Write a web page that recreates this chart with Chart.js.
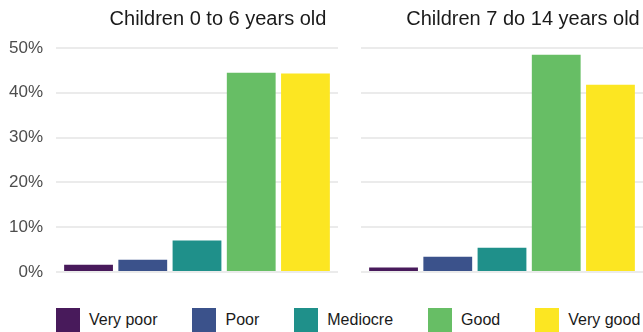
<!DOCTYPE html>
<html>
<head>
<meta charset="utf-8">
<script src="https://cdn.jsdelivr.net/npm/chart.js@4/dist/chart.umd.min.js"></script>
<style>
    body { margin: 0; background: #fff; font-family: "Liberation Sans", Arial, sans-serif; }
    #wrap { position: relative; width: 643px; height: 332px; overflow: hidden; }
    #left { position: absolute; left: 0; top: 0; }
    #right { position: absolute; left: 340px; top: 0; }
    #legend { position: absolute; left: 56px; top: 308px; display: flex; gap: 35px; }
    .item { display: flex; align-items: center; font-size: 16px; color: #1a1a1a; height: 24px; }
    .key { width: 24px; height: 24px; margin-right: 9px; }
</style>
</head>
<body>
<div id="wrap">
    <canvas id="left" width="340" height="290"></canvas>
    <canvas id="right" width="303" height="290"></canvas>
    <div id="legend"></div>
</div>
<script>
const categories = ['Very poor', 'Poor', 'Mediocre', 'Good', 'Very good'];
const panelTitles = ['Children 0 to 6 years old', 'Children 7 do 14 years old'];
// share of children per rating, in %
const youngShares = [1.6, 2.75, 7.05, 44.5, 44.3];
const olderShares = [1.0, 3.4, 5.4, 48.5, 41.8];
const yTicks = [0, 10, 20, 30, 40, 50];
const colors = ['#481A5B', '#3B528B', '#1F908A', '#67BE65', '#FCE622'];

const fontFamily = '"Liberation Sans", Arial, sans-serif';

// strip title above each panel
const facetTitle = {
    id: 'facetTitle',
    afterDraw(chart, args, opts) {
        const ctx = chart.ctx;
        const area = chart.chartArea;
        ctx.save();
        ctx.font = '20px ' + fontFamily;
        ctx.fillStyle = '#1a1a1a';
        ctx.textAlign = 'center';
        ctx.textBaseline = 'alphabetic';
        ctx.fillText(opts.text, (area.left + area.right) / 2 + 21, 25);
        ctx.restore();
    }
};

let makePanel = function (canvasId, title, shares, showTicks) {
    return new Chart(document.getElementById(canvasId).getContext('2d'), {
        type: 'bar',
        data: {
            datasets: [{
                data: categories.map((c, i) => ({x: i + 1, y: shares[i]})),
                backgroundColor: colors,
                borderWidth: 0,
                barPercentage: 0.9,
                categoryPercentage: 1.0
            }]
        },
        options: {
            responsive: false,
            animation: false,
            layout: {padding: {top: 48, right: showTicks ? 2 : 0, bottom: 18, left: 0}},
            plugins: {
                legend: {display: false},
                tooltip: {enabled: false},
                facetTitle: {text: title}
            },
            scales: {
                x: {
                    type: 'linear',
                    min: 0.4,
                    max: 5.6,
                    offset: false,
                    display: false,
                    // one tick per category so bar width follows category spacing
                    afterBuildTicks: function (scale) {
                        scale.ticks = categories.map((c, i) => ({value: i + 1}));
                    }
                },
                y: {
                    min: yTicks[0],
                    max: yTicks[yTicks.length - 1],
                    afterBuildTicks: function (scale) {
                        scale.ticks = yTicks.map(v => ({value: v}));
                    },
                    afterFit: function (scale) {
                        scale.width = showTicks ? 56 : 21;
                        scale.paddingTop = 0;
                        scale.paddingBottom = 0;
                    },
                    border: {display: false},
                    grid: {color: '#EBEBEB', lineWidth: 2, drawTicks: false},
                    ticks: {
                        display: showTicks,
                        padding: 13,
                        color: '#4D4D4D',
                        font: {family: fontFamily, size: 17},
                        callback: v => v + '%'
                    }
                }
            }
        },
        plugins: [facetTitle]
    });
};

makePanel('left', panelTitles[0], youngShares, true);
makePanel('right', panelTitles[1], olderShares, false);

// legend below both panels
const legendDiv = document.getElementById('legend');
categories.forEach(function (name, i) {
    const item = document.createElement('div');
    item.className = 'item';
    item.innerHTML = '<span class="key" style="background:' + colors[i] + '"></span>' + name;
    legendDiv.appendChild(item);
});
</script>
</body>
</html>
